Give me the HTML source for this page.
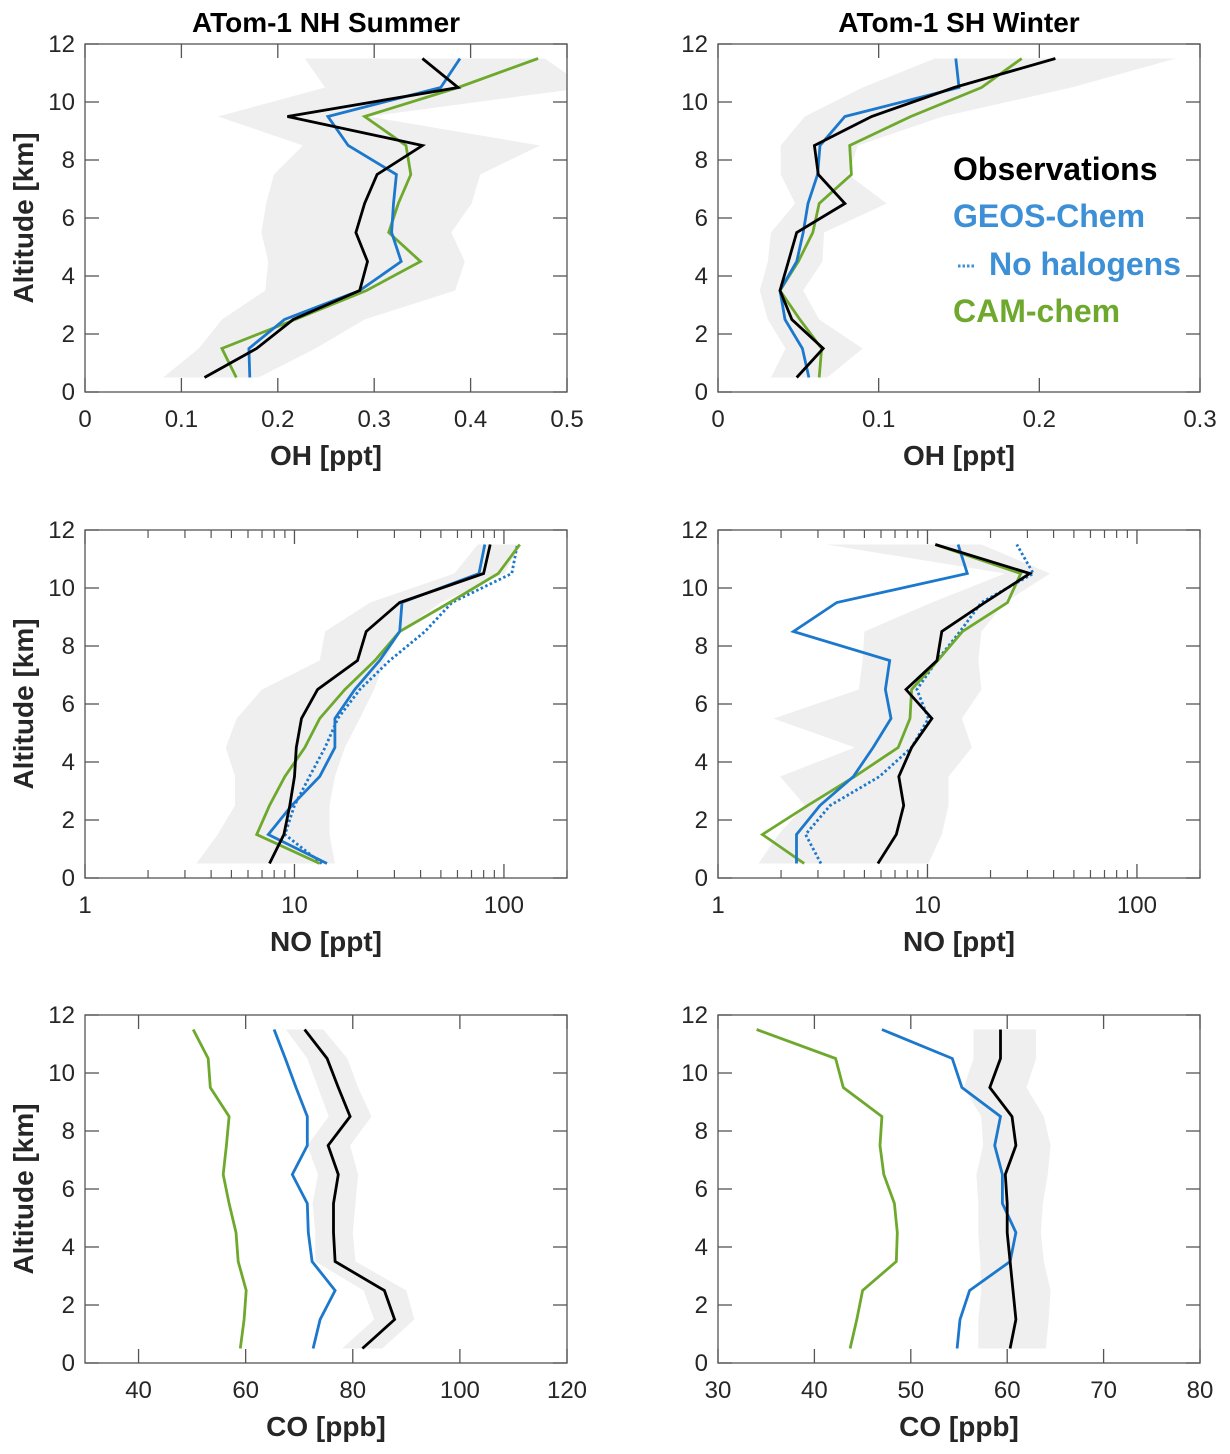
<!DOCTYPE html>
<html><head><meta charset="utf-8"><style>
body{margin:0;background:#fff;}
svg{display:block;font-family:"Liberation Sans",Arial,sans-serif;}
</style></head><body>
<svg id="fig" width="1230" height="1454" viewBox="0 0 1230 1454" xmlns="http://www.w3.org/2000/svg"></svg>
<script>
const altitudes=[0.5,1.5,2.5,3.5,4.5,5.5,6.5,7.5,8.5,9.5,10.5,11.5];
const yTicks=[0,2,4,6,8,10,12];
// Panel 1 OH NH
const ohNhObs=[0.124,0.178,0.216,0.285,0.293,0.281,0.290,0.303,0.350,0.210,0.387,0.350];
const ohNhGeos=[0.171,0.170,0.207,0.285,0.328,0.318,0.320,0.323,0.273,0.252,0.369,0.389];
const ohNhCam=[0.157,0.142,0.218,0.292,0.348,0.315,0.325,0.338,0.333,0.290,0.387,0.470];
const ohNhLo=[0.081,0.118,0.142,0.187,0.190,0.183,0.188,0.196,0.226,0.138,0.249,0.228];
const ohNhHi=[0.180,0.239,0.290,0.384,0.394,0.380,0.401,0.410,0.472,0.294,0.520,0.477];
// Panel 2 OH SH
const ohShObs=[0.049,0.0655,0.046,0.0386,0.0438,0.049,0.079,0.0624,0.060,0.0956,0.147,0.210];
const ohShGeos=[0.0566,0.0525,0.0417,0.0386,0.049,0.053,0.056,0.062,0.0635,0.079,0.150,0.148];
const ohShCam=[0.063,0.0645,0.051,0.0386,0.050,0.059,0.063,0.083,0.082,0.120,0.164,0.189];
const ohShLo=[0.033,0.042,0.031,0.026,0.031,0.033,0.048,0.039,0.039,0.054,0.090,0.135];
const ohShHi=[0.068,0.090,0.063,0.053,0.065,0.066,0.105,0.081,0.087,0.140,0.220,0.285];
// Panel 3 NO NH
const noNhObs=[7.6,8.9,9.5,10,10.2,10.8,12.9,20,22,31.8,80,86];
const noNhGeos=[14.3,7.5,9.7,13.2,15.6,15.6,19.4,25.5,31.8,32.6,76,81];
const noNhNoHal=[13.5,9,10,11.8,14,16.1,20.5,28.5,42,56.5,109,116];
const noNhCam=[13.2,6.6,7.6,9,11.2,13.2,17.4,24.2,31.8,55,94,119];
const noNhLo=[3.4,4.3,5.2,5.2,4.7,5.3,7,13.2,14,23,58,75];
const noNhHi=[15.6,14.7,14.7,15.6,17.4,20.5,24,27,32,50,101,119];
// Panel 4 NO SH
const noShObs=[5.8,7.1,7.7,7.3,8.4,10.5,7.9,11.1,11.7,18.8,30.8,10.9];
const noShGeos=[2.37,2.37,3.07,4.43,5.5,6.7,6.3,6.6,2.29,3.69,15.5,14.0];
const noShNoHal=[3.1,2.62,3.43,5.9,8.4,10.1,8.9,11.1,14.3,18.1,32,26.7];
const noShCam=[2.58,1.63,2.68,4.5,7.25,8.25,8.4,11.2,14.7,24.1,27.9,10.9];
const noShLo=[1.56,1.94,2.6,1.98,4.5,1.84,4.7,4.9,5.0,10.5,23.4,3.3];
const noShHi=[10.1,11.7,12.6,12.6,16.3,14.6,18.1,17.5,18.1,23.4,38.5,18.1];
// Panel 5 CO NH
const coNhObs=[81.8,87.8,85.9,76.7,76.4,76.4,77.3,75.4,79.5,77.3,75.2,71];
const coNhGeos=[72.6,73.9,76.7,72.4,71.7,71.5,68.7,71.5,71.5,69.4,67.4,65.3];
const coNhCam=[59,59.7,60.1,58.6,58.2,56.9,55.8,56.4,56.9,53.4,53,50.2];
const coNhLo=[78,84,82,73,73,72.5,73.5,71.5,75.5,73.5,71.5,67.5];
const coNhHi=[85.5,91.5,90,80.5,80,80.5,81,79.5,83.5,81,79,74.5];
// Panel 6 CO SH
const coShObs=[60.3,60.9,60.6,60.3,60,60,59.8,60.9,60.5,58.2,59.3,59.3];
const coShGeos=[54.8,55.1,56.1,60.3,60.9,59.5,59.5,58.7,59.3,55.3,54.3,47];
const coShCam=[43.7,44.4,45,48.5,48.6,48.3,47.2,46.8,47,43,42.2,34];
const coShLo=[57,57,57.3,57.2,57,57,56.8,57.5,57.3,55.5,56.5,56.5];
const coShHi=[64,64.3,64.5,63.8,63.5,63.7,64.2,64.5,63.8,62,63,63];

const NS='http://www.w3.org/2000/svg';
const svg=document.getElementById('fig');
const BLUE='#1c78cc',GREEN='#6ea92e',BAND='#efefef',TXT='#262626',AX='#555';
function mk(tag,attrs,parent){const e=document.createElementNS(NS,tag);for(const k in attrs)e.setAttribute(k,attrs[k]);(parent||svg).appendChild(e);return e;}
function txt(s,x,y,size,anchor,weight,color,parent){const t=mk('text',{x:x,y:y,'font-size':size,'text-anchor':anchor,'font-weight':weight||'normal',fill:color||TXT},parent);t.textContent=s;return t;}

function panel(o){
  const g=mk('g',{});
  
  
  const L=o.x0,R=o.x1,T=o.y0,B=o.y1;
  const xs=o.log?(v=>L+(Math.log10(v)-Math.log10(o.xmin))/(Math.log10(o.xmax)-Math.log10(o.xmin))*(R-L)):(v=>L+(v-o.xmin)/(o.xmax-o.xmin)*(R-L));
  const ys=a=>B-(a/12)*(B-T);
  const clip='clip-'+o.name;
  const cp=mk('clipPath',{id:clip},g);mk('rect',{x:L,y:T,width:R-L,height:B-T},cp);
  const pg=mk('g',{'clip-path':'url(#'+clip+')'},g);
  let pts=[];
  for(let i=0;i<altitudes.length;i++)pts.push(xs(o.lo[i]).toFixed(1)+','+ys(altitudes[i]).toFixed(1));
  for(let i=altitudes.length-1;i>=0;i--)pts.push(xs(o.hi[i]).toFixed(1)+','+ys(altitudes[i]).toFixed(1));
  const band=mk('polygon',{points:pts.join(' '),fill:BAND,stroke:'none'},pg);
  
  
  function line(vals,color,nm,dash){
    const p=altitudes.map((a,i)=>xs(vals[i]).toFixed(1)+','+ys(a).toFixed(1)).join(' ');
    const l=mk('polyline',{points:p,fill:'none',stroke:color,'stroke-width':2.8,'stroke-linejoin':'miter'},pg);
    if(dash)l.setAttribute('stroke-dasharray',dash);
    
    
  }
  if(o.nohal)line(o.nohal,BLUE,'no-halogens-line','2.5 2.5');
  line(o.cam,GREEN,'cam-chem-line');
  line(o.geos,BLUE,'geos-chem-line');
  line(o.obs,'#000','observations-line');
  const box=mk('rect',{x:L,y:T,width:R-L,height:B-T,fill:'none',stroke:AX,'stroke-width':1.3},g);
  
  
  yTicks.forEach(v=>{const y=ys(v);
    mk('line',{x1:L,x2:L+14,y1:y,y2:y,stroke:AX,'stroke-width':1.3},g);
    mk('line',{x1:R,x2:R-14,y1:y,y2:y,stroke:AX,'stroke-width':1.3},g);
    const t=txt(String(v),L-10,y+8,24,'end','normal',TXT,g);
    
    
  });
  o.xticks.forEach(v=>{const x=xs(v);
    mk('line',{x1:x,x2:x,y1:B,y2:B-14,stroke:AX,'stroke-width':1.3},g);
    mk('line',{x1:x,x2:x,y1:T,y2:T+14,stroke:AX,'stroke-width':1.3},g);
    const t=txt(String(v),x,B+35,24,'middle','normal',TXT,g);
    
    
  });
  if(o.log){
    [1,10,100].forEach(d=>{for(let k=2;k<=9;k++){const v=d*k;if(v>o.xmax)continue;const x=xs(v);
      mk('line',{x1:x,x2:x,y1:B,y2:B-8,stroke:AX,'stroke-width':1.2},g);
      mk('line',{x1:x,x2:x,y1:T,y2:T+8,stroke:AX,'stroke-width':1.2},g);}});
  }
  const xl=txt(o.xlabel,(L+R)/2,B+73,28,'middle','bold',TXT,g);
  
  
  if(o.ylabel){
    const yl=txt('Altitude [km]',0,0,28,'middle','bold',TXT,g);
    yl.setAttribute('transform','translate(33,'+((T+B)/2)+') rotate(-90)');
    
    
  }
  if(o.title){
    const tt=txt(o.title,(L+R)/2,T-12,28,'middle','bold','#000',g);
    
    
  }
}
const LX=[85,567],RX=[718,1200];
panel({name:'oh-nh-panel',x0:LX[0],x1:LX[1],y0:44,y1:392,xmin:0,xmax:0.5,xticks:[0,0.1,0.2,0.3,0.4,0.5],obs:ohNhObs,geos:ohNhGeos,cam:ohNhCam,lo:ohNhLo,hi:ohNhHi,xlabel:'OH [ppt]',ylabel:true,title:'ATom-1 NH Summer'});
panel({name:'oh-sh-panel',x0:RX[0],x1:RX[1],y0:44,y1:392,xmin:0,xmax:0.3,xticks:[0,0.1,0.2,0.3],obs:ohShObs,geos:ohShGeos,cam:ohShCam,lo:ohShLo,hi:ohShHi,xlabel:'OH [ppt]',ylabel:false,title:'ATom-1 SH Winter'});
panel({name:'no-nh-panel',x0:LX[0],x1:LX[1],y0:530,y1:878,log:true,xmin:1,xmax:200,xticks:[1,10,100],obs:noNhObs,geos:noNhGeos,nohal:noNhNoHal,cam:noNhCam,lo:noNhLo,hi:noNhHi,xlabel:'NO [ppt]',ylabel:true});
panel({name:'no-sh-panel',x0:RX[0],x1:RX[1],y0:530,y1:878,log:true,xmin:1,xmax:200,xticks:[1,10,100],obs:noShObs,geos:noShGeos,nohal:noShNoHal,cam:noShCam,lo:noShLo,hi:noShHi,xlabel:'NO [ppt]',ylabel:false});
panel({name:'co-nh-panel',x0:LX[0],x1:LX[1],y0:1015,y1:1363,xmin:30,xmax:120,xticks:[40,60,80,100,120],obs:coNhObs,geos:coNhGeos,cam:coNhCam,lo:coNhLo,hi:coNhHi,xlabel:'CO [ppb]',ylabel:true});
panel({name:'co-sh-panel',x0:RX[0],x1:RX[1],y0:1015,y1:1363,xmin:30,xmax:80,xticks:[30,40,50,60,70,80],obs:coShObs,geos:coShGeos,cam:coShCam,lo:coShLo,hi:coShHi,xlabel:'CO [ppb]',ylabel:false});
const lg=mk('g',{});


let e;
e=txt('Observations',953,180,32,'start','bold','#000',lg);


e=txt('GEOS-Chem',953,227,32,'start','bold','#3d8fd6',lg);


const dl=mk('line',{x1:958,x2:976,y1:266,y2:266,stroke:'#3d8fd6','stroke-width':3,'stroke-dasharray':'2.5 2'},lg);


e=txt('No halogens',989,275,32,'start','bold','#3d8fd6',lg);


e=txt('CAM-chem',953,322,32,'start','bold','#6ea92e',lg);


</script>
</body></html>
